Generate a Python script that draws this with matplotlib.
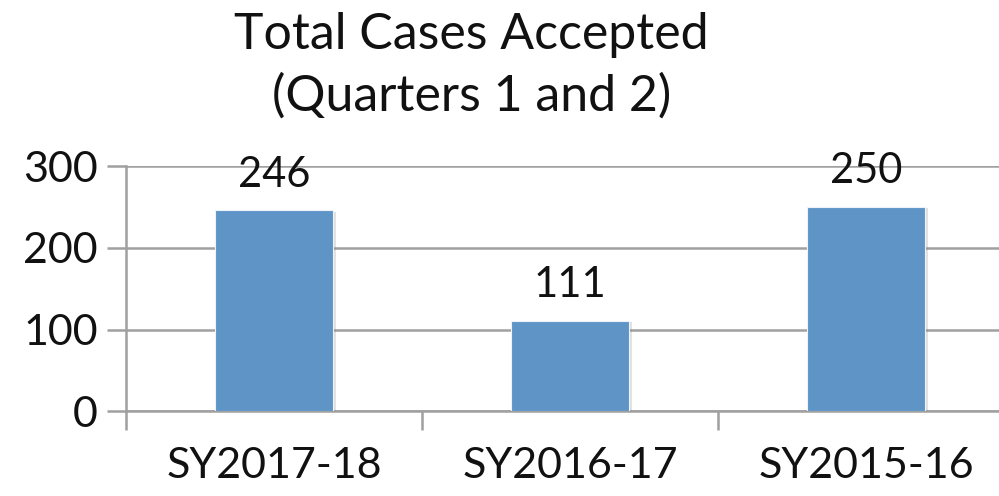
import matplotlib.pyplot as plt
import matplotlib.patheffects as pe

categories = ['SY2017-18', 'SY2016-17', 'SY2015-16']
cases = [246, 111, 250]

plt.rcParams['font.family'] = ['Lato', 'DejaVu Sans']

fig = plt.figure(figsize=(9.99, 4.96), dpi=100)
ax = fig.add_axes([0.126, 0.171, 0.889, 0.494])

bars = ax.bar(range(len(categories)), cases, width=0.4, color='#5f94c7',
              edgecolor='#eef3f9', linewidth=0.8, zorder=3)
for b in bars:
    b.set_path_effects([pe.SimplePatchShadow(offset=(2, -1), alpha=0.25, shadow_rgbFace='#888888'),
                        pe.Normal()])

for i, v in enumerate(cases):
    ax.annotate(str(v), (i, v), xytext=(0, 12), textcoords='offset points',
                ha='center', va='bottom', fontsize=30, color='#111111')

ax.set_xlim(-0.5, 2.5)
ax.set_ylim(0, 300)
ax.set_yticks([0, 100, 200, 300])
ax.grid(axis='y', color='#a0a0a0', linewidth=1.8, zorder=0)
ax.set_axisbelow(True)

ax.set_xticks(range(len(categories)))
ax.set_xticklabels(categories)
ax.set_xticks([-0.5, 0.5, 1.5, 2.5], minor=True)
ax.tick_params(axis='x', which='major', length=0, pad=26, labelsize=31, labelcolor='#111111')
ax.tick_params(axis='x', which='minor', length=14, width=1.8, color='#a0a0a0')
ax.tick_params(axis='y', length=14, width=1.8, color='#a0a0a0', labelsize=31, pad=6,
               labelcolor='#111111')

for s in ['top', 'right']:
    ax.spines[s].set_visible(False)
for s in ['left', 'bottom']:
    ax.spines[s].set_color('#a0a0a0')
    ax.spines[s].set_linewidth(1.8)

fig.text(0.472, 0.975, 'Total Cases Accepted\n(Quarters 1 and 2)', ha='center', va='top',
         fontsize=36, color='#111111', linespacing=1.38)

fig.savefig('out.png', dpi=100)
